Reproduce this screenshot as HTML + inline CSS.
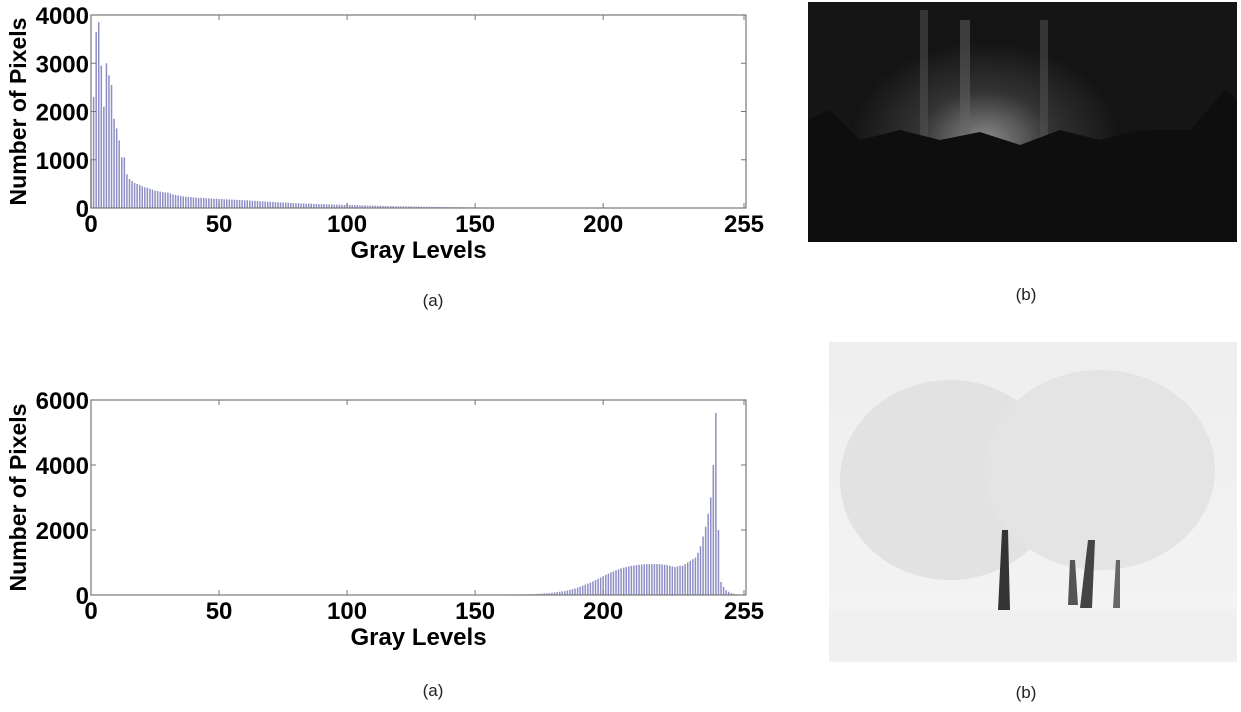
<!DOCTYPE html>
<html><head><meta charset="utf-8"><style>
html,body{margin:0;padding:0;background:#fff;width:1241px;height:712px;overflow:hidden}
svg{position:absolute;left:0;top:0}
text{font-family:"Liberation Sans",Arial,sans-serif}
.t{font-weight:bold;font-size:24px;fill:#000}
.cap{font-size:17px;fill:#222}
</style></head><body>
<svg width="1241" height="712" id="fig">
<defs>
<radialGradient id="glow" cx="0.45" cy="0.55" r="0.45">
<stop offset="0" stop-color="#8a8a8a"/><stop offset="0.5" stop-color="#333"/><stop offset="1" stop-color="#141414"/></radialGradient>
<linearGradient id="snow" x1="0" y1="0" x2="0" y2="1"><stop offset="0" stop-color="#eeeeee"/><stop offset="1" stop-color="#f4f4f4"/></linearGradient>
</defs>
<g>
<rect x="808" y="2" width="429" height="240" fill="#151515"/>
<ellipse cx="1000" cy="130" rx="150" ry="110" fill="url(#glow)"/>
<rect x="920" y="10" width="8" height="130" fill="#555" opacity="0.5"/>
<rect x="960" y="20" width="10" height="130" fill="#666" opacity="0.5"/>
<rect x="1040" y="20" width="8" height="120" fill="#555" opacity="0.5"/>
<path d="M808 120 L830 110 L860 140 L900 130 L940 140 L980 132 L1020 145 L1060 130 L1100 140 L1140 130 L1190 130 L1225 90 L1237 100 L1237 242 L808 242Z" fill="#0e0e0e"/>
</g>
<g>
<rect x="829" y="342" width="408" height="320" fill="url(#snow)"/>
<ellipse cx="950" cy="480" rx="110" ry="100" fill="#e2e2e2"/>
<ellipse cx="1100" cy="470" rx="115" ry="100" fill="#e4e4e4"/>
<path d="M998 610 L1002 530 L1008 530 L1010 610Z" fill="#333"/>
<path d="M1080 608 L1088 540 L1095 540 L1092 608Z" fill="#444"/>
<path d="M1068 605 L1070 560 L1075 560 L1078 605Z" fill="#555"/>
<path d="M1113 608 L1116 560 L1120 560 L1120 608Z" fill="#666"/>
<rect x="829" y="610" width="408" height="52" fill="#f0f0f0"/>
</g>
<text class="cap" x="433" y="306" text-anchor="middle">(a)</text>
<text class="cap" x="1026" y="300" text-anchor="middle">(b)</text>
<text class="cap" x="433" y="696" text-anchor="middle">(a)</text>
<text class="cap" x="1026" y="698" text-anchor="middle">(b)</text>
</svg>
<script>
const topCounts=[1000,2300,3650,3850,2950,2100,3000,2750,2550,1850,1650,1400,1050,1050,700,600,560,520,500,480,450,430,420,400,
380,360,350,340,330,320,320,300,280,270,260,250,240,235,230,225,220,215,210,210,205,200,200,195,190,190,
185,185,180,180,175,175,170,170,165,165,160,160,155,150,150,145,140,140,135,130,130,125,120,120,115,115,110,110,105,105,100,100,95,95,90,90,90,85,85,80,80,80,75,75,75,70,70,70,65,65,
90,65,60,60,60,55,55,55,50,50,50,48,46,45,44,42,40,40,38,36,35,35,34,33,32,31,30,30,29,28,27,26,25,25,24,23,22,22,21,20,20,19,18,18,17,16,16,15,15,14,
14,13,13,12,12,11,11,10,10,9,9,8,8,8,7,7,6,6,6,5,5,5,4,4,4,3,3,3,3,2,2,2,2,2,1,1,1,1,1,1,1,1,1,1,1,0,0,0,0,0,
0,0,0,0,0,0,0,0,0,0,0,0,0,0,0,0,0,0,0,0,0,0,0,0,0,0,0,0,0,0,0,0,0,0,0,0,0,0,0,0,0,0,0,0,0,0,0,0,0,0,0,0,0,0,0,0];
const bottomCounts=[
10,10,10,10,10,10,10,10,10,10,10,10,10,10,10,10,10,10,10,10,10,10,10,10,10,10,10,10,10,10,10,10,10,10,10,10,10,10,10,10,10,10,10,10,10,10,10,10,10,10,
10,10,10,10,10,10,10,10,10,10,10,10,10,10,10,10,10,10,10,10,10,10,10,10,10,10,10,10,10,10,10,10,10,10,10,10,10,10,10,10,10,10,10,10,10,10,10,10,10,10,
10,10,10,10,10,10,10,10,10,10,10,10,10,10,10,10,10,10,10,10,10,10,10,10,10,10,10,10,10,10,10,10,10,10,10,10,10,10,10,10,10,10,10,10,10,10,10,10,10,10,
10,10,11,11,12,12,13,13,14,14,15,15,16,16,17,17,18,18,19,20,
20,25,30,30,35,40,45,50,55,60,70,80,90,100,110,120,140,160,180,200,
230,260,290,320,350,380,420,460,500,540,580,620,660,700,730,760,790,820,840,860,880,900,910,920,930,940,950,950,950,950,
950,950,950,940,930,920,900,880,860,880,
900,900,950,1000,1050,1100,1150,1300,1500,1800,2100,2500,3000,4000,5600,
2000,400,250,150,100,60,40,20,10,5,0];
const xTicks=[0,50,100,150,200,255];
const topYTicks=[0,1000,2000,3000,4000];
const bottomYTicks=[0,2000,4000,6000];
const NS="http://www.w3.org/2000/svg";
const svg=document.getElementById('fig');
function mk(tag,attrs,parent){const e=document.createElementNS(NS,tag);for(const k in attrs)e.setAttribute(k,attrs[k]);parent.appendChild(e);return e;}
function chart(name,counts,yTicks,yMax,L,T,R,B){
  const g=mk('g',{},svg);
  
  
  const xs=v=>L+(v/255)*(R-L-2);
  const ys=v=>B-(v/yMax)*(B-T);
  counts.forEach((c,i)=>{
    if(c<=0)return;
    const r=mk('rect',{x:xs(i)-0.7,y:ys(c),width:1.5,height:B-ys(c),fill:'#8e8ec6'},g);
    
    
  });
  const box=mk('rect',{x:L,y:T,width:R-L,height:B-T,fill:'none',stroke:'#777','stroke-width':1.2},g);
  
  
  xTicks.forEach(v=>{
    const x=xs(v);
    mk('line',{x1:x,y1:B,x2:x,y2:B-5,stroke:'#777'},g);
    mk('line',{x1:x,y1:T,x2:x,y2:T+5,stroke:'#777'},g);
    const t=mk('text',{x:x,y:B+24,'text-anchor':'middle',class:'t'},g);
    t.textContent=v;
    
    
  });
  yTicks.forEach(v=>{
    const y=ys(v);
    mk('line',{x1:L,y1:y,x2:L+5,y2:y,stroke:'#777'},g);
    mk('line',{x1:R,y1:y,x2:R-5,y2:y,stroke:'#777'},g);
    const t=mk('text',{x:L-2,y:y+9,'text-anchor':'end',class:'t'},g);
    t.textContent=v;
    
    
  });
  const xt=mk('text',{x:(L+R)/2,y:B+50,'text-anchor':'middle',class:'t',style:'font-size:24px'},g);
  xt.textContent='Gray Levels';
  
  
  const yt=mk('text',{x:0,y:0,'text-anchor':'middle',class:'t',style:'font-size:23px',transform:`translate(26,${(T+B)/2}) rotate(-90)`},g);
  yt.textContent='Number of Pixels';
  
  
}
chart('histogram-dark',topCounts,topYTicks,4000,91,15,746,208);
chart('histogram-bright',bottomCounts,bottomYTicks,6000,91,400,746,595);
</script>
</body></html>
